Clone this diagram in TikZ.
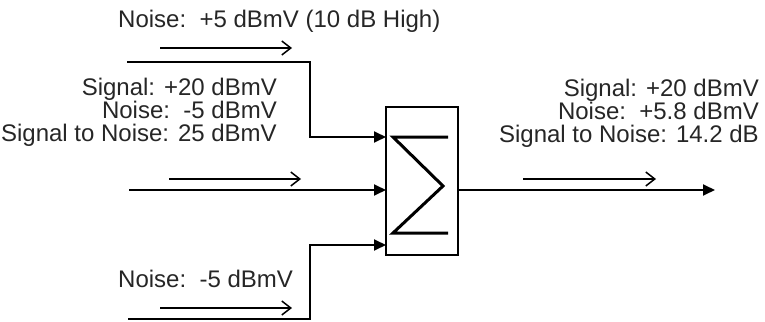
\documentclass[tikz,border=0pt]{standalone}
\usepackage{fontspec}
\setmainfont{Liberation Sans}
\usetikzlibrary{arrows.meta}
\begin{document}
\begin{tikzpicture}[x=1pt,y=-1pt,
  wire/.style={line width=1.8pt,color=black},
  feed/.style={wire,-{Triangle[length=12pt,width=11pt]}},
  flow/.style={line width=1.5pt,-{Straight Barb[length=9pt,width=14pt,line width=1.5pt]}},
  lbl/.style={inner sep=0pt,font=\fontsize{24}{28}\selectfont,text=black!85},
  sumbox/.style={draw,line width=1.5pt,minimum width=72pt,minimum height=148pt,inner sep=0pt}]
\useasboundingbox (0,0) rectangle (765,321);
% summing box
\node[sumbox] (sum) at (422,181) {};
\draw[line width=3pt,line join=miter,miter limit=10] (448,137) -- (393,137) -- (443,186) -- (393,233) -- (448,233);
% input 1
\coordinate (s1) at (127,62);
\coordinate (k1) at (310,62);
\coordinate (j1) at (310,137);
\coordinate (e1) at (386,137);
\draw[feed] (s1) -- (k1) -- (j1) -- (e1);
% input 2
\coordinate (s2) at (129,190);
\coordinate (e2) at (386,190);
\draw[feed] (s2) -- (e2);
% input 3
\coordinate (s3) at (128,319);
\coordinate (k3) at (310,319);
\coordinate (j3) at (310,245);
\coordinate (e3) at (386,245);
\draw[feed] (s3) -- (k3) -- (j3) -- (e3);
% output
\coordinate (o1) at (458,190);
\coordinate (o2) at (715,190);
\draw[feed] (o1) -- (o2);
% direction arrows
\coordinate (f1a) at (160,48); \coordinate (f1b) at (292,48);
\coordinate (f2a) at (169,179); \coordinate (f2b) at (301,179);
\coordinate (f3a) at (160,308); \coordinate (f3b) at (292,308);
\coordinate (f4a) at (523,179); \coordinate (f4b) at (656,179);
\draw[flow] (f1a) -- (f1b);
\draw[flow] (f2a) -- (f2b);
\draw[flow] (f3a) -- (f3b);
\draw[flow] (f4a) -- (f4b);
% labels
\node[lbl,anchor=base west] (t1) at (118,28) {Noise:\ \ +5 dBmV (10 dB High)};
\node[lbl,anchor=base east] (l1) at (277,95) {Signal: +20 dBmV};
\node[lbl,anchor=base east] (l2) at (277,118) {Noise:\ \ -5 dBmV};
\node[lbl,anchor=base east] (l3) at (277,141) {Signal to Noise: 25 dBmV};
\node[lbl,anchor=base west] (b1) at (118,287) {Noise:\ \ -5 dBmV};
\node[lbl,anchor=base east] (r1) at (759,96) {Signal: +20 dBmV};
\node[lbl,anchor=base east] (r2) at (759,119) {Noise:\ \ +5.8 dBmV};
\node[lbl,anchor=base east] (r3) at (759,142) {Signal to Noise: 14.2 dB};
\end{tikzpicture}
\end{document}
